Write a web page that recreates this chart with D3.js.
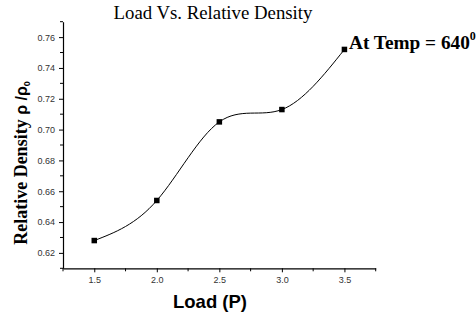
<!DOCTYPE html>
<html><head><meta charset="utf-8">
<script src="https://cdn.jsdelivr.net/npm/d3@7"></script>
<style>body{margin:0;background:#fff}svg{display:block}</style>
</head><body>
<svg id="c" width="476" height="320"></svg>
<script>
const loads = [1.5, 2.0, 2.5, 3.0, 3.5];
const density = [0.628, 0.654, 0.705, 0.713, 0.752];
const xTicks = [1.5, 2.0, 2.5, 3.0, 3.5];
const yTicks = [0.62, 0.64, 0.66, 0.68, 0.70, 0.72, 0.74, 0.76];
const xMinor = [1.25, 1.75, 2.25, 2.75, 3.25, 3.75];
const yMinor = [0.61, 0.63, 0.65, 0.67, 0.69, 0.71, 0.73, 0.75, 0.77];

const svg = d3.select("#c");
const x = d3.scaleLinear().domain([1.25, 3.75]).range([63, 375.7]);
const y = d3.scaleLinear().domain([0.61, 0.77]).range([268.3, 21.7]);

const xAx = svg.append("g").attr("transform", "translate(0,268.3)")
  .call(d3.axisBottom(x).tickValues(xTicks).tickFormat(d3.format(".1f")).tickSize(4).tickPadding(4).tickSizeOuter(0));
xAx.append("g").selectAll("line").data(xMinor).join("line")
  .attr("x1", d => x(d)).attr("x2", d => x(d)).attr("y1", 0).attr("y2", 3).attr("stroke", "#000");
const yAx = svg.append("g").attr("transform", "translate(63,0)")
  .call(d3.axisLeft(y).tickValues(yTicks).tickFormat(d3.format(".2f")).tickSize(4).tickPadding(4).tickSizeOuter(0));
yAx.append("g").selectAll("line").data(yMinor).join("line")
  .attr("y1", d => y(d)).attr("y2", d => y(d)).attr("x1", 0).attr("x2", -3).attr("stroke", "#000");
[xAx, yAx].forEach(g => {
  g.select(".domain").attr("stroke", "#000").attr("stroke-width", 1.2);
  g.selectAll(".tick line").attr("stroke", "#000");
  g.selectAll("text").attr("font-family", "Liberation Sans, Arial, sans-serif").attr("font-size", 9).attr("fill", "#333");
});

const pts = loads.map((l, i) => [l, density[i]]);
svg.append("path").datum(pts)
  .attr("fill", "none").attr("stroke", "#000").attr("stroke-width", 1)
  .attr("d", d3.line().x(d => x(d[0])).y(d => y(d[1])).curve(d3.curveNatural));
const s = 5.5;
svg.selectAll("rect.m").data(pts).join("rect").attr("class", "m")
  .attr("x", d => x(d[0]) - s/2).attr("y", d => y(d[1]) - s/2)
  .attr("width", s).attr("height", s).attr("fill", "#000");

svg.append("text").attr("x", 213).attr("y", 19).attr("text-anchor", "middle")
  .attr("font-family", "Liberation Serif, Times New Roman, serif").attr("font-size", 18.8)
  .text("Load Vs. Relative Density");

const t = svg.append("text").attr("x", 349).attr("y", 49)
  .attr("font-family", "Liberation Serif, Times New Roman, serif").attr("font-size", 19.3).attr("font-weight", "bold");
t.append("tspan").text("At Temp = 640");
t.append("tspan").attr("font-size", 12).attr("dy", -9).text("0");

svg.append("text").attr("x", 210).attr("y", 308).attr("text-anchor", "middle")
  .attr("font-family", "Liberation Sans, Arial, sans-serif").attr("font-size", 18.5).attr("font-weight", "bold")
  .text("Load (P)");

const yl = svg.append("text").attr("transform", "translate(27,163) rotate(-90)").attr("text-anchor", "middle")
  .attr("font-weight", "bold");
yl.append("tspan").attr("font-family", "Liberation Serif, Times New Roman, serif").attr("font-size", 18).text("Relative Density ");
yl.append("tspan").attr("font-family", "Liberation Sans, Arial, sans-serif").attr("font-size", 16).text("ρ /ρ");
yl.append("tspan").attr("font-family", "Liberation Sans, Arial, sans-serif").attr("font-size", 9).attr("dy", 3).text("0");
</script>
</body></html>
